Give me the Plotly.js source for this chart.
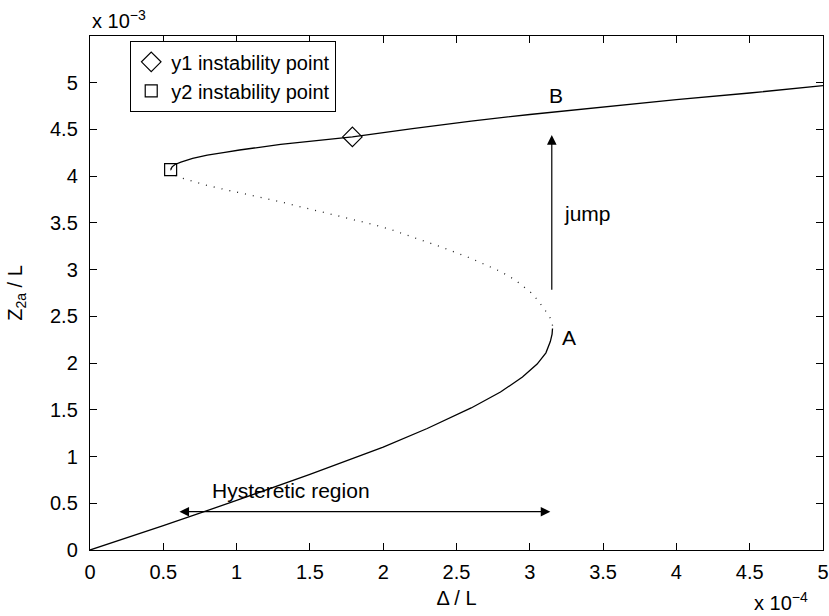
<!DOCTYPE html>
<html>
<head>
<meta charset="utf-8">
<script src="https://cdn.plot.ly/plotly-3.0.1.min.js"></script>
<style>html,body{margin:0;padding:0;background:#fff;}#chart{width:829px;height:616px;}</style>
</head>
<body>
<div id="chart"></div>
<script>
// Data (Δ/L in units of 1e-4, Z2a/L in units of 1e-3)
var lowerX = [0, 0.5, 1.0, 1.5, 2.0, 2.3, 2.6, 2.8, 2.95, 3.05, 3.11, 3.14, 3.152, 3.155];
var lowerY = [0, 0.26, 0.53, 0.81, 1.1, 1.3, 1.52, 1.69, 1.85, 1.99, 2.11, 2.23, 2.31, 2.37];

var middleX = [3.155, 3.15, 3.13, 3.10, 3.06, 3.02, 2.96, 2.90, 2.80, 2.6, 2.4, 2.2, 2.05, 1.94, 1.58, 1.26, 0.94, 0.8, 0.7, 0.625, 0.58, 0.56, 0.55];
var middleY = [2.40, 2.45, 2.51, 2.58, 2.66, 2.74, 2.82, 2.89, 2.98, 3.12, 3.24, 3.35, 3.43, 3.48, 3.62, 3.74, 3.85, 3.9, 3.945, 3.98, 4.01, 4.04, 4.07];

var upperX = [0.55, 0.56, 0.58, 0.62, 0.7, 0.8, 0.92, 1.02, 1.3, 1.59, 1.79, 2.2, 2.6, 3.0, 3.5, 4.0, 4.5, 5.0];
var upperY = [4.07, 4.10, 4.125, 4.15, 4.19, 4.225, 4.255, 4.28, 4.34, 4.39, 4.42, 4.51, 4.59, 4.66, 4.74, 4.82, 4.89, 4.97];

var y1Point = {x: [1.79], y: [4.42]};
var y2Point = {x: [0.55], y: [4.07]};

var xTicks = [0, 0.5, 1, 1.5, 2, 2.5, 3, 3.5, 4, 4.5, 5];
var xTickLabels = ["0", "0.5", "1", "1.5", "2", "2.5", "3", "3.5", "4", "4.5", "5"];
var yTicks = [0, 0.5, 1, 1.5, 2, 2.5, 3, 3.5, 4, 4.5, 5];
var yTickLabels = ["0", "0.5", "1", "1.5", "2", "2.5", "3", "3.5", "4", "4.5", "5"];

// annotation anchors (data units)
var jumpArrow = {x: 3.15, yFrom: 2.77, yTo: 4.44};
var hystArrow = {xFrom: 0.6, xTo: 3.14, y: 0.41};
var labelA = {x: 3.27, y: 2.27};
var labelB = {x: 3.18, y: 4.86};
var labelJump = {x: 3.22, y: 3.6};
var labelHyst = {x: 1.37, y: 0.64};

var FONT = "Liberation Sans, Arial, Helvetica, sans-serif";

var traces = [
  {x: lowerX, y: lowerY, mode: 'lines', line: {color: '#000', width: 1.3}, showlegend: false, hoverinfo: 'skip'},
  {x: middleX, y: middleY, mode: 'lines', line: {color: '#222', width: 1.3, dash: '1px,7px'}, showlegend: false, hoverinfo: 'skip'},
  {x: upperX, y: upperY, mode: 'lines', line: {color: '#000', width: 1.3}, showlegend: false, hoverinfo: 'skip'},
  {x: y1Point.x, y: y1Point.y, mode: 'markers', name: 'y1 instability point',
   marker: {symbol: 'diamond-open', size: 15, color: '#000', line: {width: 1.2, color: '#000'}}},
  {x: y2Point.x, y: y2Point.y, mode: 'markers', name: 'y2 instability point',
   marker: {symbol: 'square-open', size: 12, color: '#000', line: {width: 1.2, color: '#000'}}}
];

var layout = {
  width: 829, height: 616,
  margin: {l: 90, r: 6, t: 36, b: 66},
  paper_bgcolor: '#fff', plot_bgcolor: '#fff',
  font: {family: FONT, size: 20, color: '#000'},
  showlegend: true,
  legend: {x: 0.0546, y: 0.99, xanchor: 'left', yanchor: 'top',
           bgcolor: '#fff', bordercolor: '#000', borderwidth: 1.2,
           font: {family: FONT, size: 20, color: '#000'}, itemwidth: 30,
           tracegroupgap: 0},
  xaxis: {range: [0, 5], tickvals: xTicks, ticktext: xTickLabels,
          ticks: 'inside', ticklen: 7, tickcolor: '#000', mirror: 'ticks',
          showline: true, linecolor: '#000', linewidth: 1.2, showgrid: false, zeroline: false,
          tickfont: {family: FONT, size: 20}, ticklabelstandoff: 4, fixedrange: true,
          title: {text: 'Δ / L', font: {family: FONT, size: 20}, standoff: 8}},
  yaxis: {range: [0, 5.5], tickvals: yTicks, ticktext: yTickLabels,
          ticks: 'inside', ticklen: 7, tickcolor: '#000', mirror: 'ticks',
          showline: true, linecolor: '#000', linewidth: 1.2, showgrid: false, zeroline: false,
          tickfont: {family: FONT, size: 20}, ticklabelstandoff: 7, fixedrange: true,
          title: {text: 'Z<sub>2a</sub> / L', font: {family: FONT, size: 20}, standoff: 22}},
  annotations: [
    {xref: 'paper', yref: 'paper', x: 0, y: 1, xanchor: 'left', yanchor: 'bottom', yshift: 2,
     text: 'x 10<sup>−3</sup>', showarrow: false, font: {family: FONT, size: 20}},
    {xref: 'paper', yref: 'paper', x: 0.982, y: -0.072, xanchor: 'right', yanchor: 'top',
     text: 'x 10<sup>−4</sup>', showarrow: false, font: {family: FONT, size: 20}},
    {xref: 'x', yref: 'y', x: labelA.x, y: labelA.y, text: 'A', showarrow: false,
     xanchor: 'center', yanchor: 'middle', font: {family: FONT, size: 21}},
    {xref: 'x', yref: 'y', x: labelB.x, y: labelB.y, text: 'B', showarrow: false,
     xanchor: 'center', yanchor: 'middle', font: {family: FONT, size: 21}},
    {xref: 'x', yref: 'y', x: labelJump.x, y: labelJump.y, text: 'jump', showarrow: false,
     xanchor: 'left', yanchor: 'middle', font: {family: FONT, size: 21}},
    {xref: 'x', yref: 'y', x: labelHyst.x, y: labelHyst.y, text: 'Hysteretic region', showarrow: false,
     xanchor: 'center', yanchor: 'middle', font: {family: FONT, size: 21}},
    {xref: 'x', yref: 'y', axref: 'x', ayref: 'y', x: jumpArrow.x, y: jumpArrow.yTo,
     ax: jumpArrow.x, ay: jumpArrow.yFrom, text: '', showarrow: true,
     arrowhead: 2, arrowsize: 1.6, arrowwidth: 1.2, arrowcolor: '#000'},
    {xref: 'x', yref: 'y', axref: 'x', ayref: 'y', x: hystArrow.xTo, y: hystArrow.y,
     ax: hystArrow.xFrom, ay: hystArrow.y, text: '', showarrow: true, arrowside: 'end+start',
     arrowhead: 2, startarrowhead: 2, arrowsize: 1.6, startarrowsize: 1.6, arrowwidth: 1.2, arrowcolor: '#000'}
  ]
};

Plotly.newPlot('chart', traces, layout, {displayModeBar: false, staticPlot: true});
</script>
</body>
</html>
